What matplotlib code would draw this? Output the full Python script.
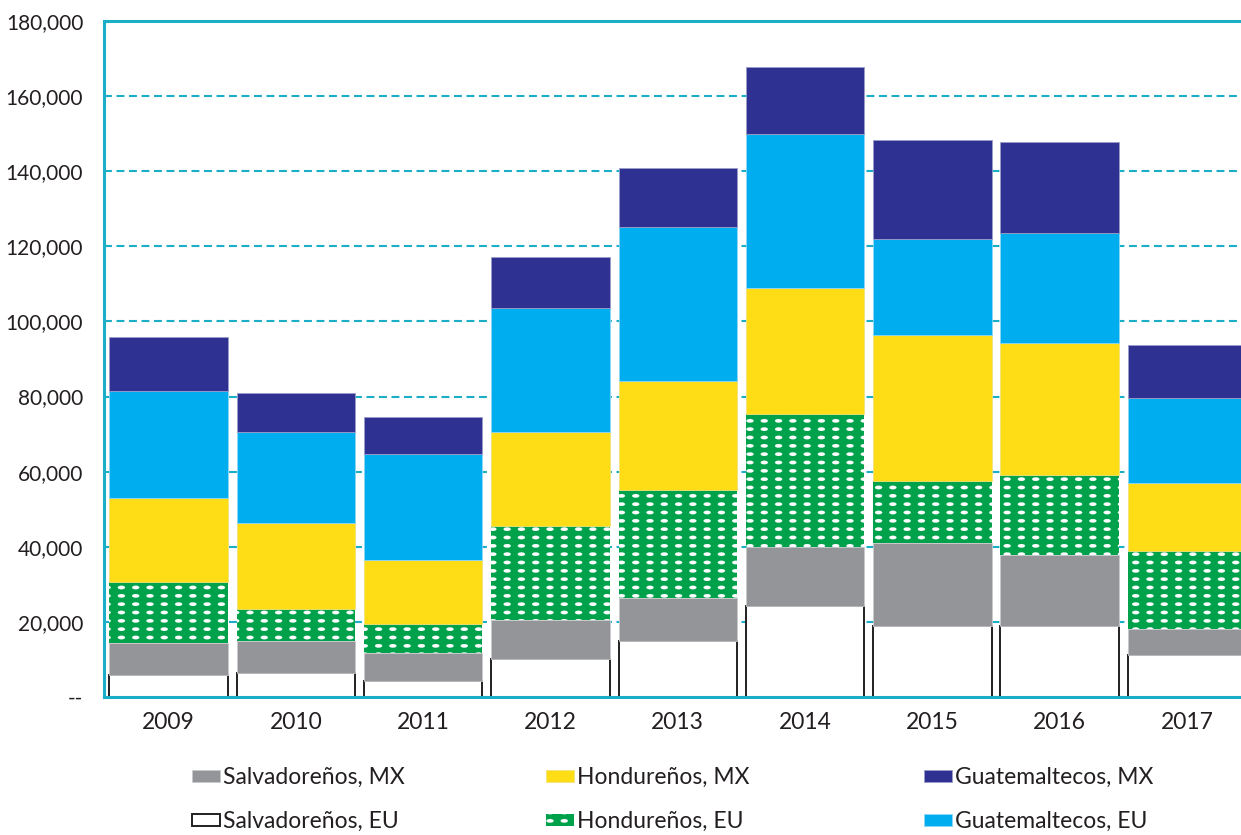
import numpy as np
import matplotlib
matplotlib.use("Agg")
import matplotlib.pyplot as plt
import matplotlib.hatch as mhatch
from matplotlib.path import Path
from matplotlib.ticker import FuncFormatter

years = ["2009", "2010", "2011", "2012", "2013", "2014", "2015", "2016", "2017"]

salv_eu = [5900, 6450, 4300, 10000, 14800, 24200, 19000, 19000, 11100]
salv_mx = [8450, 8430, 7470, 10580, 11650, 15730, 22040, 18930, 6900]
hond_eu = [16180, 8450, 7740, 24890, 28800, 35380, 16450, 21070, 21000]
hond_mx = [22580, 23020, 16880, 24980, 28970, 33600, 38850, 35210, 17870]
guat_eu = [28360, 24100, 28350, 33150, 40900, 40890, 25680, 29410, 22660]
guat_mx = [14320, 10570, 9870, 13690, 15730, 17960, 26220, 24090, 14140]


# white dot grid used as the "." hatch (aligned rows, flat ellipses)
class DotGrid(mhatch.HatchPatternBase):
    def __init__(self, hatch, density):
        n = hatch.count(".")
        self.cols = 7 * n
        self.rows = 12 * n
        circle = Path.unit_circle()
        self.shape = circle.vertices * [0.036, 0.018]
        self.shape_codes = circle.codes
        self.num_vertices = self.cols * self.rows * len(circle.vertices)

    def set_vertices_and_codes(self, vertices, codes):
        vparts, cparts = [], []
        for r in range(self.rows):
            for c in range(self.cols):
                vparts.append(self.shape + [(c + 0.5) / self.cols, (r + 0.5) / self.rows])
                cparts.append(self.shape_codes)
        np.concatenate(vparts, out=vertices)
        np.concatenate(cparts, out=codes)


mhatch._hatch_types = [DotGrid if t is mhatch.SmallFilledCircles else t
                       for t in mhatch._hatch_types]

plt.rcParams["font.family"] = ["Lato", "DejaVu Sans"]
plt.rcParams["hatch.linewidth"] = 0.1

teal = "#1AAFC6"
ink = "#231F20"

fig = plt.figure(figsize=(12.41, 8.35), dpi=100)
ax = fig.add_axes([104 / 1241, 1 - 697 / 835, 1 - 104 / 1241, (697 - 21) / 835])

x = np.arange(len(years))
w = 0.93
bottom = np.zeros(len(years))

series = [
    (salv_eu, "Salvadoreños, EU", dict(color="white", edgecolor=ink, linewidth=1.4)),
    (salv_mx, "Salvadoreños, MX", dict(color="#939598", edgecolor="#c9cacc", linewidth=0.6)),
    (hond_eu, "Hondureños, EU", dict(color="#00A14B", edgecolor="white", linewidth=0, hatch=".")),
    (hond_mx, "Hondureños, MX", dict(color="#FEDD17", edgecolor="#f3e27a", linewidth=0.6)),
    (guat_eu, "Guatemaltecos, EU", dict(color="#00AEEF", edgecolor="#8fd6f3", linewidth=0.6)),
    (guat_mx, "Guatemaltecos, MX", dict(color="#2E3192", edgecolor="#9a9cc8", linewidth=0.6)),
]

handles = {}
for vals, label, style in series:
    vals = np.array(vals, dtype=float)
    bars = ax.bar(x, vals, w, bottom=bottom, label=label, zorder=2, **style)
    handles[label] = bars
    bottom += vals

ax.set_xlim(-0.507, 8.425)
ax.set_ylim(0, 180000)
ax.set_yticks(np.arange(0, 180001, 20000))
ax.yaxis.set_major_formatter(FuncFormatter(lambda v, p: "--" if v == 0 else f"{int(v):,}"))
ax.set_xticks(x)
ax.set_xticklabels(years)
ax.tick_params(axis="y", length=0, pad=15, labelsize=15, labelcolor=ink)
ax.tick_params(axis="x", length=0, pad=11, labelsize=16.5, labelcolor=ink)

ax.yaxis.grid(True, color=teal, linewidth=1.5, linestyle=(0, (3.8, 2.2)), zorder=0)
ax.set_axisbelow(True)

for side in ["left", "bottom", "top"]:
    ax.spines[side].set_color(teal)
    ax.spines[side].set_linewidth(2.2)
    ax.spines[side].set_zorder(3)
ax.spines["right"].set_visible(False)

groups = [
    (["Salvadoreños, MX", "Salvadoreños, EU"], 192),
    (["Hondureños, MX", "Hondureños, EU"], 546),
    (["Guatemaltecos, MX", "Guatemaltecos, EU"], 924),
]
for labels, xpix in groups:
    leg = fig.legend([handles[l] for l in labels], labels, loc="upper left",
                     bbox_to_anchor=(xpix / 1241, 1 - 767 / 835), frameon=False,
                     fontsize=16.5, handlelength=1.2, handleheight=0.45,
                     handletextpad=0.15, labelspacing=1.0, borderpad=0,
                     borderaxespad=0)
    for t in leg.get_texts():
        t.set_color(ink)

fig.savefig("out.png", dpi=100)
